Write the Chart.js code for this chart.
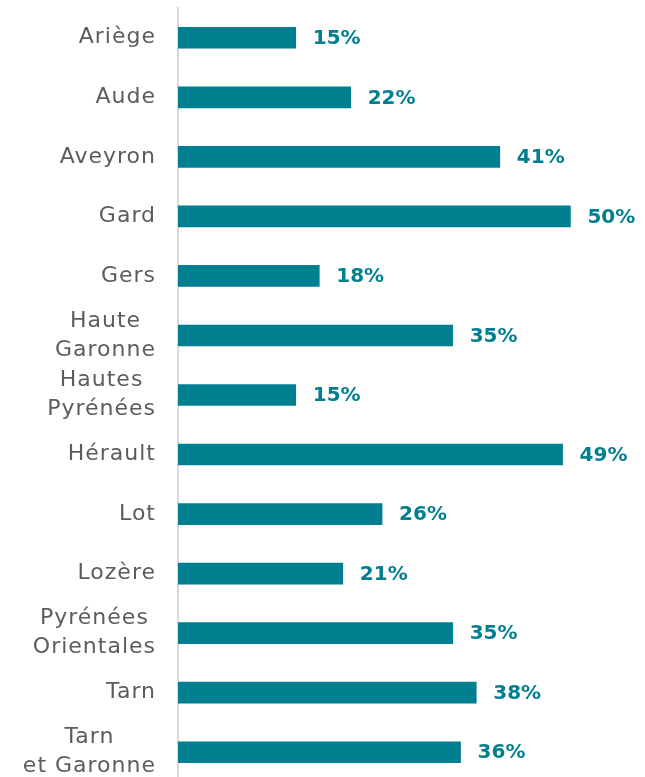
<!DOCTYPE html>
<html>
<head>
<meta charset="utf-8">
<script src="https://cdn.jsdelivr.net/npm/chart.js@4"></script>
<style>
  html, body { margin: 0; padding: 0; background: #fff; overflow: hidden; }
  #wrap { position: relative; width: 645px; height: 782px; }
</style>
</head>
<body>
<div id="wrap"><canvas id="chartCanvas"></canvas></div>
<script>
// Departments (each entry is the lines of its label) and their shares in %
const departments = [
  ['Ariège'], ['Aude'], ['Aveyron'], ['Gard'], ['Gers'],
  ['Haute', 'Garonne'], ['Hautes', 'Pyrénées'], ['Hérault'], ['Lot'],
  ['Lozère'], ['Pyrénées', 'Orientales'], ['Tarn'], ['Tarn', 'et Garonne']
];
const shares = [15, 22, 41, 50, 18, 35, 15, 49, 26, 21, 35, 38, 36];

const teal = '#007f91';
const grey = '#5c5c5c';

// Draws the category labels (block right aligned, lines centred) and the value labels
const sideText = {
  id: 'sideText',
  afterDatasetsDraw(chart) {
    const ctx = chart.ctx;
    const yScale = chart.scales.y;
    const meta = chart.getDatasetMeta(0);
    ctx.save();

    // value labels at the end of each bar
    ctx.font = 'bold 20px "DejaVu Sans"';
    ctx.fillStyle = teal;
    ctx.textAlign = 'left';
    ctx.textBaseline = 'middle';
    meta.data.forEach((bar, i) => {
      ctx.fillText(shares[i] + '%', bar.x + 17, bar.y + 1);
    });

    // category labels
    ctx.font = '22px "DejaVu Sans"';
    ctx.letterSpacing = '1px';
    ctx.fillStyle = grey;
    ctx.textAlign = 'left';
    const rightEdge = 155;
    const lineH = 29;
    departments.forEach((lines, i) => {
      const yc = yScale.getPixelForTick(i);
      const widths = lines.map(l => ctx.measureText(l).width - 1);
      const maxW = Math.max(...widths);
      const xc = rightEdge - maxW / 2;
      const y0 = yc - (lines.length - 1) * lineH / 2;
      lines.forEach((l, k) => ctx.fillText(l, xc - widths[k] / 2, y0 + k * lineH));
    });
    ctx.restore();
  }
};

new Chart(document.getElementById('chartCanvas').getContext('2d'), {
  type: 'bar',
  data: {
    labels: departments,
    datasets: [{
      data: shares,
      backgroundColor: teal,
      barThickness: 21,
      borderWidth: 0
    }]
  },
  options: {
    indexAxis: 'y',
    responsive: true,
    maintainAspectRatio: false,
    animation: false,
    layout: { padding: { top: 8, left: 0, right: 0, bottom: 0 } },
    plugins: {
      legend: { display: false },
      tooltip: { enabled: false }
    },
    scales: {
      x: {
        display: false,
        min: 0,
        max: 59.5
      },
      y: {
        grid: { display: false },
        border: { display: true, color: '#d9d9d9', width: 2 },
        ticks: { display: false },
        afterFit(scale) { scale.width = 178; }
      }
    }
  },
  plugins: [sideText]
});
</script>
</body>
</html>
